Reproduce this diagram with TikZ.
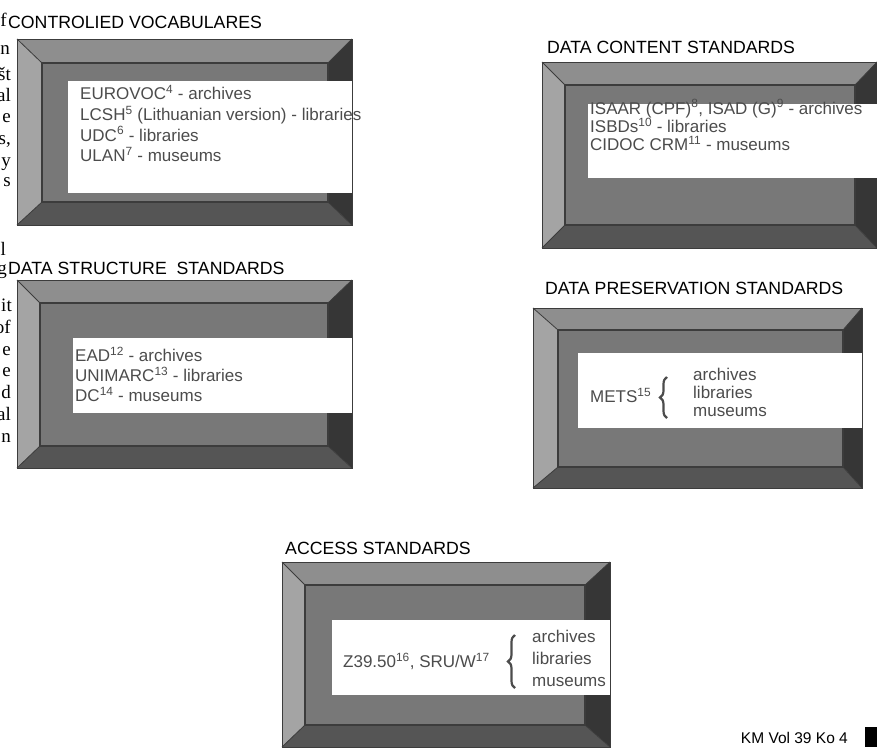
\documentclass[tikz,border=0pt]{standalone}
\usepackage{fontspec}
\setmainfont{Liberation Sans}
\newfontfamily\pageserif{Liberation Serif}
\usetikzlibrary{positioning,decorations.pathreplacing}

\definecolor{bevtopc}{HTML}{8E8E8E}
\definecolor{bevleftc}{HTML}{A4A4A4}
\definecolor{bevfacec}{HTML}{787878}
\definecolor{bevbotc}{HTML}{555555}
\definecolor{bevrightc}{HTML}{363636}
\definecolor{bevline}{HTML}{3C3C3C}
\definecolor{listgray}{HTML}{4C4C4C}

\tikzset{
	heading/.style={anchor=base west, inner sep=0pt, font=\fontsize{17.7}{20}\selectfont},
	entry/.style={anchor=base west, inner sep=0pt, text=listgray, font=\fontsize{17}{20}\selectfont},
	fragment/.style={anchor=base east, inner sep=0pt, font=\pageserif\fontsize{19}{22}\selectfont},
	panel/.style={fill=white},
	curly/.style={decorate, decoration={brace, amplitude=7pt}, draw=listgray, line width=2.2pt},
}

% outer corners #1,#2 -- #3,#4, inner face corners #5,#6 -- #7,#8
\newcommand{\bevelframe}[8]{%
	\fill[bevfacec] (#5,#6) rectangle (#7,#8);
	\fill[bevtopc] (#1,#2) -- (#3,#2) -- (#7,#6) -- (#5,#6) -- cycle;
	\fill[bevleftc] (#1,#2) -- (#5,#6) -- (#5,#8) -- (#1,#4) -- cycle;
	\fill[bevrightc] (#3,#2) -- (#3,#4) -- (#7,#8) -- (#7,#6) -- cycle;
	\fill[bevbotc] (#1,#4) -- (#5,#8) -- (#7,#8) -- (#3,#4) -- cycle;
	\draw[bevline, line width=0.8pt] (#1,#2) -- (#5,#6) (#3,#2) -- (#7,#6)
		(#1,#4) -- (#5,#8) (#3,#4) -- (#7,#8);
	\draw[bevline, line width=1.2pt] (#5,#6) rectangle (#7,#8);
	\draw[bevline, line width=0.8pt] (#1,#2) rectangle (#3,#4);
}

\begin{document}
\begin{tikzpicture}[x=1pt, y=-1pt]
	\useasboundingbox (0,0) rectangle (877,747);
	
	% cut-off words of the page text on the left
	\node[fragment] (w1) at (7,26) {f};
	\node[fragment] (w2) at (10,54) {n};
	\node[fragment] (w3) at (11,80.5) {št};
	\node[fragment] (w4) at (11,101.5) {al};
	\node[fragment] (w5) at (11,122.5) {e};
	\node[fragment] (w6) at (11,144.5) {s,};
	\node[fragment] (w7) at (11,166.5) {y};
	\node[fragment] (w8) at (11,186.5) {s};
	\node[fragment] (w9) at (6,255) {l};
	\node[fragment] (w10) at (7,274) {g};
	\node[fragment] (w11) at (12,311.5) {it};
	\node[fragment] (w12) at (11,333.5) {of};
	\node[fragment] (w13) at (11,355.5) {e};
	\node[fragment] (w14) at (11,376.5) {e};
	\node[fragment] (w15) at (11,398.5) {d};
	\node[fragment] (w16) at (11,420.5) {al};
	\node[fragment] (w17) at (11,442.5) {n};
	
	% controlled vocabularies
	\node[heading] (cvtitle) at (8,28.5) {CONTROLIED VOCABULARES};
	\bevelframe{17}{39}{352}{225}{42}{63}{328}{202}
	\fill[panel] (68,81) rectangle (352,193);
	\node[entry] (cv1) at (80,99.5) {EUROVOC\textsuperscript{4} - archives};
	\node[entry] (cv2) at (80,120.5) {LCSH\textsuperscript{5} (Lithuanian version) - libraries};
	\node[entry] (cv3) at (80,141) {UDC\textsuperscript{6} - libraries};
	\node[entry] (cv4) at (80,161.5) {ULAN\textsuperscript{7} - museums};
	
	% data structure standards
	\node[heading] (dstitle) at (8,274.5) {DATA STRUCTURE\ \ STANDARDS};
	\bevelframe{17}{280}{352}{468}{40}{303}{328}{446}
	\fill[panel] (73,338) rectangle (352,413);
	\node[entry] (ds1) at (75,361.5) {EAD\textsuperscript{12} - archives};
	\node[entry] (ds2) at (75,381.5) {UNIMARC\textsuperscript{13} - libraries};
	\node[entry] (ds3) at (75,401.5) {DC\textsuperscript{14} - museums};
	
	% data content standards
	\node[heading] (dctitle) at (547,53.5) {DATA CONTENT STANDARDS};
	\bevelframe{542}{62}{877}{248}{565}{85}{855}{225}
	\fill[panel] (588,104) rectangle (877,178);
	\node[entry] (dc1) at (590,114) {ISAAR (CPF)\textsuperscript{8}, ISAD (G)\textsuperscript{9} - archives};
	\node[entry] (dc2) at (590,132.5) {ISBDs\textsuperscript{10} - libraries};
	\node[entry] (dc3) at (590,150.5) {CIDOC CRM\textsuperscript{11} - museums};
	
	% data preservation standards
	\node[heading] (dptitle) at (545,294.5) {DATA PRESERVATION STANDARDS};
	\bevelframe{533}{308}{862}{488}{558}{330}{843}{467}
	\fill[panel] (578,353) rectangle (862,428);
	\node[entry] (mets) at (590,402.5) {METS\textsuperscript{15}};
	\coordinate (metstop) at (667,377);
	\coordinate (metsbot) at (667,418);
	\draw[curly] (metsbot) -- (metstop);
	\node[entry] (dp1) at (693,380.5) {archives};
	\node[entry] (dp2) at (693,398.5) {libraries};
	\node[entry] (dp3) at (693,416.5) {museums};
	
	% access standards
	\node[heading] (actitle) at (285,554.5) {ACCESS STANDARDS};
	\bevelframe{282}{562}{610}{747}{305}{585}{585}{725}
	\fill[panel] (332,620) rectangle (610,695);
	\node[entry] (z3950) at (343,667.5) {Z39.50\textsuperscript{16}, SRU/W\textsuperscript{17}};
	\coordinate (srutop) at (515,635);
	\coordinate (srubot) at (515,688);
	\draw[curly] (srubot) -- (srutop);
	\node[entry] (ac1) at (532,642.5) {archives};
	\node[entry] (ac2) at (532,664.5) {libraries};
	\node[entry] (ac3) at (532,686.5) {museums};
	
	% running footer
	\node[anchor=base east, inner sep=0pt, font=\fontsize{15.5}{18}\selectfont] (foot) at (848,743) {KM Vol 39 Ko 4};
	\fill[black] (865,727) rectangle (877,747);
	
\end{tikzpicture}
\end{document}
